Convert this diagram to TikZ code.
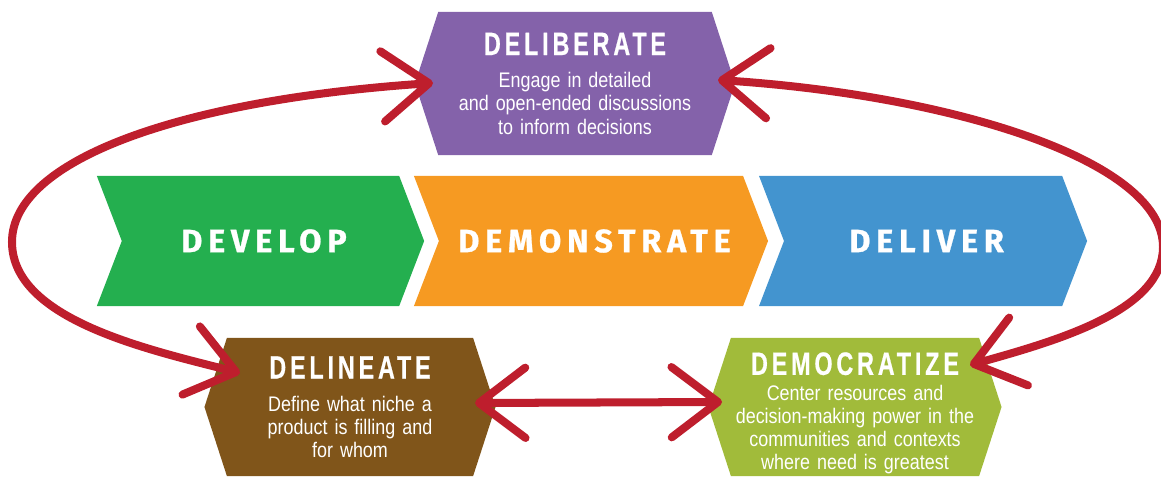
\documentclass[tikz,border=0pt]{standalone}
\usepackage{fontspec}
\usetikzlibrary{positioning,shapes.symbols,arrows.meta}
\setmainfont{Liberation Sans}
\newfontfamily\bodyfont{Liberation Sans}[FakeStretch=0.85]
\newfontfamily\titlefont{Liberation Sans}[FakeStretch=0.72,LetterSpace=12,FakeBold=0.6]
\newfontfamily\chevfont{Fira Sans}[LetterSpace=18,FakeBold=0.8]
\definecolor{delibpurple}{HTML}{8462AA}
\definecolor{devgreen}{HTML}{24AF4F}
\definecolor{demorange}{HTML}{F69A22}
\definecolor{delblue}{HTML}{4394CF}
\definecolor{delinbrown}{HTML}{80551A}
\definecolor{demoolive}{HTML}{A1BB3A}
\definecolor{loopred}{HTML}{BE1E2D}
\newcommand\hextitle[2][3pt]{{\titlefont\bfseries\fontsize{23}{24}\selectfont #2}\\[#1]}

\begin{document}
\begin{tikzpicture}[x=0.025cm,y=-0.025cm,on grid,
        chevron/.style={shape=signal,signal from=west,signal to=east,signal pointer angle=138,
            minimum height=3.25cm,inner sep=0pt,text=white,execute at begin node=\hspace{5pt},
            font=\chevfont\bfseries\fontsize{23}{23}\selectfont},
        hexbox/.style={shape=signal,signal to=east and west,signal pointer angle=144,
            inner sep=0pt,text=white,text width=6cm,align=center,
            font=\bodyfont\fontsize{15}{16.4}\selectfont},
        redarrow/.style={draw=loopred,line width=5.7pt,line cap=round,
            {Straight Barb[length=33pt,width=50pt,round]}-{Straight Barb[length=33pt,width=50pt,round]}}]
        \useasboundingbox (0,0) rectangle (1161,477);
        % the three steps
        \node[chevron,fill=devgreen,minimum width=8.18cm] (develop) at (260.5,241) {DEVELOP};
        \node[chevron,fill=demorange,minimum width=8.85cm,right=8.26cm of develop] (demonstrate) {DEMONSTRATE};
        \node[chevron,fill=delblue,minimum width=8.2cm,right=8.3cm of demonstrate] (deliver) {DELIVER};
        % the loop
        \node[hexbox,fill=delibpurple,minimum width=8cm,minimum height=3.575cm] (deliberate) at (575,83.5)
            {\hextitle[7pt]{DELIBERATE}Engage in detailed\\ and open-ended discussions\\ to inform decisions};
        \node[hexbox,fill=delinbrown,minimum width=7.275cm,minimum height=3.45cm] (delineate) at (350,407)
            {\hextitle[7pt]{DELINEATE}Define what niche a\\ product is filling and\\ for whom};
        \node[hexbox,fill=demoolive,minimum width=7.325cm,minimum height=3.45cm] (democratize) at (855,407)
            {\hextitle[2pt]{\rule{0pt}{25pt}DEMOCRATIZE}Center resources and\\ decision-making power in the\\ communities and contexts\\ where need is greatest};
        \coordinate (delibW) at (433,83);
        \coordinate (delibE) at (718,80);
        \coordinate (delinNW) at (240,373);
        \coordinate (delinE) at (475,403);
        \coordinate (democW) at (722,402);
        \coordinate (democNE) at (970,365);
        \draw[redarrow] (delibW) .. controls (180,100) and (12,160) .. (12,242)
            .. controls (12,320) and (150,350) .. (delinNW);
        \draw[redarrow] (delibE) .. controls (950,95) and (1163,160) .. (1163,247)
            .. controls (1163,310) and (1060,340) .. (democNE);
        \draw[redarrow] (delinE) -- (democW);
\end{tikzpicture}
\end{document}
